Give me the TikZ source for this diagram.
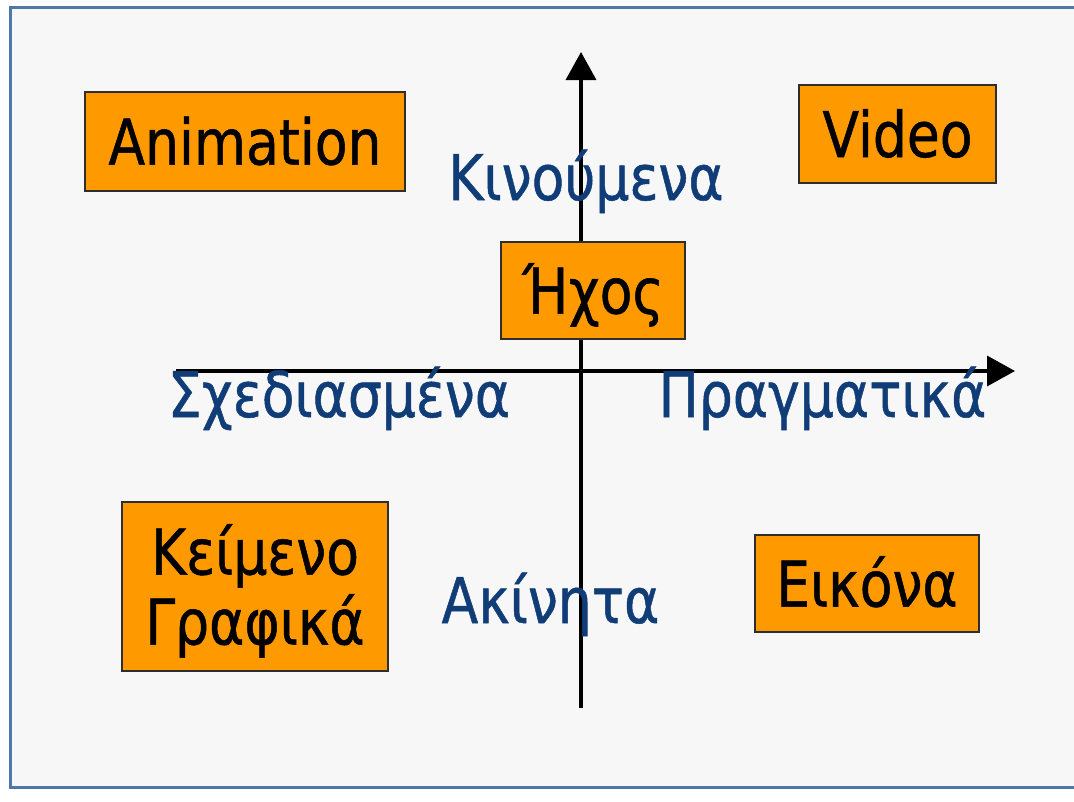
\documentclass[tikz,border=0pt]{standalone}
\usepackage{fontspec}
\setmainfont{DejaVu Sans}[FakeStretch=0.85,FakeBold=0.8]
\usetikzlibrary{arrows.meta}
\definecolor{panelbg}{HTML}{F7F7F7}
\definecolor{frameblue}{HTML}{4F78A8}
\definecolor{boxorange}{HTML}{FF9900}
\definecolor{boxedge}{HTML}{2E2E2E}
\definecolor{labelblue}{HTML}{103D78}
\begin{document}
\begin{tikzpicture}[x=1pt,y=-1pt,
  bigtext/.style={font=\fontsize{63}{70}\selectfont},
  mediabox/.style={bigtext, draw=boxedge, line width=1.6pt, fill=boxorange,
    inner sep=0pt, text=black, text height=46pt, text depth=0pt, align=center},
  axislabel/.style={bigtext, text=labelblue, inner sep=0pt, anchor=base},
  axisline/.style={line width=3.5pt, draw=black,
    -{Triangle[length=28pt,width=30pt]}}]
  % page and panel frame
  \useasboundingbox (0,0) rectangle (1074,801);
  \fill[white] (0,0) rectangle (1074,801);
  \draw[frameblue, line width=3pt, fill=panelbg] (10.5,7.5) rectangle (1085,787.5);

  % axes
  \coordinate (vbot) at (581,708);
  \coordinate (vtop) at (581,52);
  \coordinate (hleft) at (176,371);
  \coordinate (hright) at (1015,371);
  \draw[axisline] (vbot) -- (vtop);
  \draw[axisline] (hleft) -- (hright);

  % axis labels
  \node[axislabel] (moving) at (586,200) {Κινούμενα};
  \node[axislabel] (static) at (550.5,623) {Ακίνητα};
  \node[axislabel] (drawn) at (339,417) {Σχεδιασμένα};
  \node[axislabel] (real) at (822.5,417) {Πραγματικά};

  % media boxes
  \node[mediabox, minimum width=320pt, minimum height=99pt] (anim) at (245,141.5) {Animation};
  \node[mediabox, minimum width=197pt, minimum height=98pt] (video) at (897.5,134) {Video};
  \node[mediabox, minimum width=184pt, minimum height=97pt] (sound) at (593,290.5) {Ήχος};
  \node[mediabox, minimum width=266pt, minimum height=169pt, text height=116pt] (textgfx) at (255,586.5) {Κείμενο\\Γραφικά};
  \node[mediabox, minimum width=224pt, minimum height=97pt] (image) at (867,583.5) {Εικόνα};
\end{tikzpicture}
\end{document}
